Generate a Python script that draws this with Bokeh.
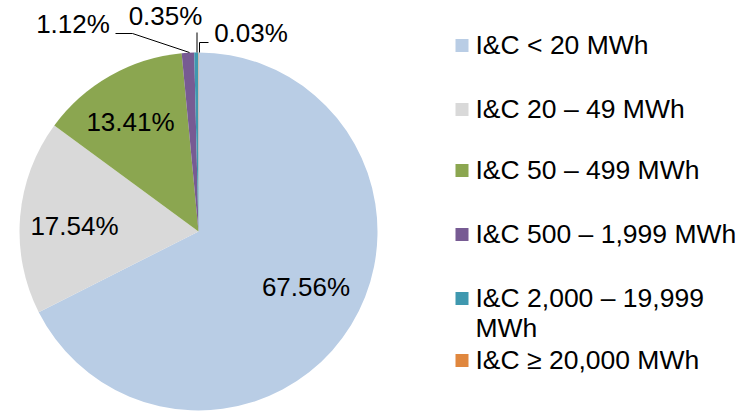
import math
from bokeh.plotting import figure
from bokeh.models import Range1d
from bokeh.core.properties import value
from bokeh.embed import file_html
from bokeh.resources import INLINE

# ---- data ----
categories = ["I&C < 20 MWh", "I&C 20 – 49 MWh", "I&C 50 – 499 MWh",
              "I&C 500 – 1,999 MWh", "I&C 2,000 – 19,999\nMWh", "I&C ≥ 20,000 MWh"]
shares = [67.56, 17.54, 13.41, 1.12, 0.35, 0.03]
colors = ["#B9CDE5", "#D9D9D9", "#8BA650", "#775B93", "#3F98AF", "#E0873E"]

# ---- layout (screen pixels) ----
W, H = 745, 411
def Y(sy):
    return H - sy

cx, cy, r = 198, 231, 179
label_pos = [(305.5, 286), (74, 225), (130, 121), (72.5, 23), (165, 15), (250.5, 32)]
leaders = {3: [(115, 33), (132, 33), (189, 52)],
           4: [(196.5, 32), (196.5, 52)],
           5: [(208, 42), (199, 42), (199, 52)]}
legend_centers = [45, 109, 170, 234, 298, 360]
FONT = value("Liberation Sans")
FS = "26px"
LFS = "26.5px"

p = figure(width=W, height=H, x_range=Range1d(0, W), y_range=Range1d(0, H),
           output_backend="svg", toolbar_location=None, min_border=0)
p.axis.visible = False
p.grid.visible = False
p.outline_line_color = None
p.background_fill_color = "white"

total = sum(shares)
cum = 0.0
starts, ends = [], []
for v in shares:
    starts.append(math.pi / 2 - 2 * math.pi * cum / total)
    cum += v
    ends.append(math.pi / 2 - 2 * math.pi * cum / total)

p.wedge(x=[cx] * len(shares), y=[Y(cy)] * len(shares), radius=r,
        start_angle=starts, end_angle=ends, direction="clock",
        fill_color=colors, line_color=None)

# leader lines
for i, pts in leaders.items():
    p.line([q[0] for q in pts], [Y(q[1]) for q in pts], line_color="black", line_width=1)

# data labels
p.text(x=[q[0] for q in label_pos], y=[Y(q[1]) for q in label_pos],
       text=[f"{v:.2f}%" for v in shares], text_font=FONT, text_font_size=FS,
       text_align="center", text_baseline="middle", text_color="black")

# legend
sq_x, txt_x = 461.5, 475
for i, (name, col) in enumerate(zip(categories, colors)):
    c = legend_centers[i]
    p.rect(x=[sq_x], y=[Y(c)], width=13, height=13, fill_color=col, line_color=None)
    for j, line in enumerate(name.split("\n")):
        p.text(x=[txt_x], y=[Y(c - 1 + 30 * j)], text=[line], text_font=FONT,
               text_font_size=LFS, text_align="left", text_baseline="middle",
               text_color="black")

open("out.html", "w").write(file_html(p, INLINE))
